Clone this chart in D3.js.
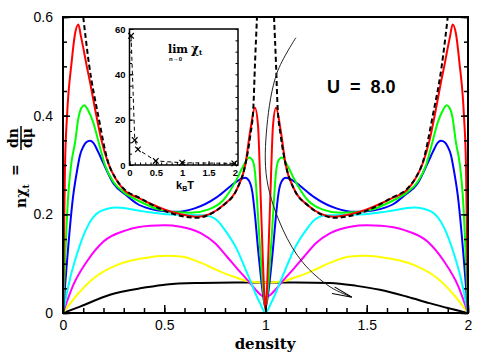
<!DOCTYPE html>
<html>
<head>
<meta charset="utf-8">
<script src="https://cdn.jsdelivr.net/npm/d3@7"></script>
<style>
body { margin: 0; background: #fff; }
svg { display: block; }
</style>
</head>
<body>
<div id="chart"></div>
<script>
// courbes n*chi_t (densité, valeur)
const red = [[0,0],[0.005,0.15],[0.01,0.3],[0.02,0.4],[0.043,0.51],[0.059,0.565],[0.076,0.585],[0.088,0.562],[0.1,0.538],[0.115,0.505],[0.133,0.469],[0.16,0.41],[0.19,0.35],[0.222,0.305],[0.26,0.272],[0.3,0.25],[0.38,0.232],[0.43,0.222],[0.5,0.21],[0.58,0.2],[0.66,0.195],[0.72,0.2],[0.79,0.218],[0.86,0.252],[0.9,0.3],[0.925,0.37],[0.948,0.416],[0.963,0.38],[0.975,0.25],[0.985,0.13],[0.995,0.03],[1,0.005],
  [1.005,0.03],[1.015,0.13],[1.025,0.25],[1.037,0.38],[1.052,0.416],[1.075,0.37],[1.1,0.3],[1.14,0.252],[1.21,0.218],[1.28,0.2],[1.34,0.195],[1.42,0.2],[1.5,0.21],[1.57,0.222],[1.62,0.232],[1.7,0.25],[1.74,0.272],[1.778,0.305],[1.81,0.35],[1.84,0.41],[1.867,0.469],[1.885,0.505],[1.9,0.538],[1.912,0.562],[1.924,0.585],[1.941,0.565],[1.957,0.51],[1.98,0.4],[1.99,0.3],[1.995,0.15],[2,0]];
const green = [[0,0],[0.026,0.24],[0.04,0.3],[0.06,0.347],[0.076,0.395],[0.09,0.415],[0.105,0.421],[0.125,0.41],[0.148,0.388],[0.183,0.335],[0.207,0.3],[0.25,0.265],[0.3,0.245],[0.38,0.226],[0.48,0.209],[0.56,0.204],[0.63,0.203],[0.72,0.21],[0.79,0.228],[0.864,0.276],[0.89,0.298],[0.92,0.315],[0.935,0.31],[0.948,0.286],[0.958,0.23],[0.968,0.164],[0.98,0.09],[0.99,0.04],[1,0.01],
  [1.01,0.04],[1.02,0.09],[1.032,0.164],[1.042,0.23],[1.052,0.286],[1.065,0.31],[1.08,0.315],[1.11,0.298],[1.136,0.276],[1.21,0.228],[1.28,0.21],[1.37,0.203],[1.44,0.204],[1.52,0.209],[1.62,0.226],[1.7,0.245],[1.75,0.265],[1.793,0.3],[1.817,0.335],[1.852,0.388],[1.875,0.41],[1.895,0.421],[1.91,0.415],[1.924,0.395],[1.94,0.347],[1.96,0.3],[1.974,0.24],[2,0]];
const blue = [[0,0],[0.051,0.24],[0.07,0.29],[0.084,0.32],[0.1,0.337],[0.115,0.346],[0.133,0.349],[0.15,0.345],[0.173,0.327],[0.198,0.305],[0.25,0.262],[0.314,0.238],[0.364,0.222],[0.43,0.211],[0.5,0.206],[0.56,0.205],[0.65,0.212],[0.76,0.235],[0.83,0.258],[0.87,0.27],[0.9,0.274],[0.92,0.267],[0.935,0.245],[0.95,0.19],[0.963,0.13],[0.978,0.07],[0.99,0.03],[1,0.01],
  [1.01,0.03],[1.022,0.07],[1.037,0.13],[1.05,0.19],[1.065,0.245],[1.08,0.267],[1.1,0.274],[1.13,0.27],[1.17,0.258],[1.24,0.235],[1.35,0.212],[1.44,0.205],[1.5,0.206],[1.57,0.211],[1.636,0.222],[1.686,0.238],[1.75,0.262],[1.802,0.305],[1.827,0.327],[1.85,0.345],[1.867,0.349],[1.885,0.346],[1.9,0.337],[1.916,0.32],[1.93,0.29],[1.949,0.24],[2,0]];
const cyan = [[0,0],[0.035,0.07],[0.068,0.118],[0.117,0.172],[0.183,0.206],[0.265,0.214],[0.397,0.206],[0.512,0.2],[0.6,0.199],[0.7,0.198],[0.76,0.188],[0.8,0.168],[0.86,0.128],[0.9,0.09],[0.923,0.067],[0.95,0.04],[0.975,0.018],[1,0],
  [1.025,0.018],[1.05,0.04],[1.077,0.067],[1.1,0.09],[1.14,0.128],[1.2,0.168],[1.24,0.188],[1.3,0.198],[1.4,0.199],[1.488,0.2],[1.603,0.206],[1.735,0.214],[1.817,0.206],[1.883,0.172],[1.932,0.118],[1.965,0.07],[2,0]];
const magenta = [[0,0],[0.051,0.057],[0.117,0.104],[0.2,0.145],[0.314,0.168],[0.43,0.177],[0.5,0.178],[0.58,0.175],[0.68,0.162],[0.75,0.142],[0.81,0.114],[0.86,0.09],[0.91,0.067],[0.95,0.048],[0.975,0.037],[1,0.032],
  [1.025,0.037],[1.05,0.048],[1.09,0.067],[1.14,0.09],[1.19,0.114],[1.25,0.142],[1.32,0.162],[1.42,0.175],[1.5,0.178],[1.57,0.177],[1.686,0.168],[1.8,0.145],[1.883,0.104],[1.949,0.057],[2,0]];
const yellow = [[0,0],[0.068,0.036],[0.15,0.07],[0.265,0.097],[0.397,0.111],[0.512,0.116],[0.59,0.114],[0.68,0.102],[0.76,0.087],[0.84,0.074],[0.92,0.064],[1,0.062],
  [1.08,0.064],[1.16,0.074],[1.24,0.087],[1.32,0.102],[1.41,0.114],[1.488,0.116],[1.603,0.111],[1.735,0.097],[1.85,0.07],[1.932,0.036],[2,0]];
const black = [[0,0],[0.084,0.013],[0.232,0.037],[0.397,0.051],[0.512,0.058],[0.68,0.061],[0.85,0.062],[1,0.062],[1.15,0.062],[1.32,0.061],[1.45,0.055],[1.565,0.047],[1.7,0.033],[1.81,0.02],[1.9,0.01],[2,0]];
// limite T -> 0 (tirets), null = coupure
const limitT0 = [[0.1,0.6],[0.13,0.5],[0.174,0.4],[0.222,0.307],[0.26,0.273],[0.3,0.252],[0.38,0.233],[0.45,0.217],[0.55,0.2],[0.66,0.193],[0.72,0.199],[0.79,0.218],[0.86,0.252],[0.9,0.3],[0.925,0.36],[0.94,0.416],[0.948,0.504],[0.958,0.6],
  [1,null],
  [1.042,0.6],[1.052,0.504],[1.06,0.416],[1.075,0.36],[1.1,0.3],[1.14,0.252],[1.21,0.218],[1.28,0.199],[1.34,0.193],[1.45,0.2],[1.55,0.217],[1.62,0.233],[1.7,0.252],[1.74,0.273],[1.778,0.307],[1.826,0.4],[1.87,0.5],[1.9,0.6]];

const seriesColors = [[black, "#000000"], [yellow, "#ffff00"], [magenta, "#ff00ff"], [cyan, "#00ffff"], [blue, "#0000ff"], [green, "#00ff00"], [red, "#ff0000"]];

// encart : lim chi_t en fonction de kB T
const insetT = [0.03, 0.1, 0.16, 0.5, 1.0, 1.99];
const insetChi = [57, 11, 6.9, 1.8, 1.0, 0.7];

// flèche (coordonnées dans le repère densité / valeur)
const arrowPath = [[1.15,0.558],[1.057,0.487],[1.007,0.378],[1.007,0.27],[1.086,0.169],[1.185,0.102],[1.319,0.053],[1.427,0.032]];

const xTicks = [0, 0.5, 1, 1.5, 2];
const yTicks = [0, 0.2, 0.4, 0.6];

const margin = { top: 17, right: 14, bottom: 47, left: 63 };
const width = 482 - margin.left - margin.right;
const height = 360 - margin.top - margin.bottom;

const root = d3.select("#chart").append("svg")
    .attr("width", 482)
    .attr("height", 360);

const svg = root.append("g")
    .attr("transform", `translate(${margin.left},${margin.top})`);

const x = d3.scaleLinear().domain([0, 2]).range([0, width]);
const y = d3.scaleLinear().domain([0, 0.6]).range([height, 0]);

root.append("defs").append("clipPath").attr("id", "clip")
    .append("rect").attr("width", width).attr("height", height);

const line = d3.line()
    .defined(d => d[1] !== null)
    .x(d => x(d[0]))
    .y(d => y(d[1]))
    .curve(d3.curveMonotoneX);

const plot = svg.append("g").attr("clip-path", "url(#clip)");

seriesColors.forEach(([data, color]) => {
    plot.append("path")
        .datum(data)
        .attr("d", line)
        .attr("fill", "none")
        .attr("stroke", color)
        .attr("stroke-width", 2);
});

plot.append("path")
    .datum(limitT0)
    .attr("d", line)
    .attr("fill", "none")
    .attr("stroke", "#000")
    .attr("stroke-width", 2)
    .attr("stroke-dasharray", "5,3");

// axes (graduations vers l'intérieur)
const tickFont = "'Liberation Sans', Arial, sans-serif";

function styleAxis(g) {
    g.select(".domain").remove();
    g.selectAll("line").attr("stroke", "#000").attr("stroke-width", 1.5);
    g.selectAll("text").attr("font-family", tickFont).attr("font-size", 14).attr("fill", "#000");
}

svg.append("g")
    .attr("transform", `translate(0,${height})`)
    .call(d3.axisBottom(x).tickValues(d3.range(0, 2.01, 0.1)).tickSize(-5).tickFormat(""))
    .call(styleAxis);
svg.append("g")
    .attr("transform", `translate(0,${height})`)
    .call(d3.axisBottom(x).tickValues(xTicks).tickSize(-8).tickPadding(7).tickFormat(d3.format("")))
    .call(styleAxis);

svg.append("g")
    .call(d3.axisLeft(y).tickValues(d3.range(0, 0.61, 0.05)).tickSize(-4).tickFormat(""))
    .call(styleAxis);
svg.append("g")
    .call(d3.axisLeft(y).tickValues(yTicks).tickSize(-7).tickPadding(10).tickFormat(d3.format("")))
    .call(styleAxis);

svg.append("g")
    .attr("transform", `translate(${width},0)`)
    .call(d3.axisRight(y).tickValues(d3.range(0, 0.61, 0.05)).tickSize(-4).tickFormat(""))
    .call(styleAxis);
svg.append("g")
    .attr("transform", `translate(${width},0)`)
    .call(d3.axisRight(y).tickValues(yTicks).tickSize(-7).tickFormat(""))
    .call(styleAxis);

svg.append("rect")
    .attr("width", width)
    .attr("height", height)
    .attr("fill", "none")
    .attr("stroke", "#000")
    .attr("stroke-width", 2);

// flèche
root.select("defs").append("marker")
    .attr("id", "head")
    .attr("viewBox", "0 -5 20 10")
    .attr("refX", 20)
    .attr("refY", 0)
    .attr("markerUnits", "userSpaceOnUse")
    .attr("markerWidth", 20)
    .attr("markerHeight", 10)
    .attr("orient", "auto")
    .append("path")
    .attr("d", "M0,-3.5L20,0L0,3.5")
    .attr("fill", "none")
    .attr("stroke", "#000")
    .attr("stroke-width", 1);

svg.append("path")
    .datum(arrowPath)
    .attr("d", d3.line().x(d => x(d[0])).y(d => y(d[1])).curve(d3.curveCatmullRom))
    .attr("fill", "none")
    .attr("stroke", "#222")
    .attr("stroke-width", 1)
    .attr("marker-end", "url(#head)");

// texte U = 8.0
svg.append("text")
    .attr("x", 327 - margin.left)
    .attr("y", 93 - margin.top)
    .attr("font-family", tickFont)
    .attr("font-weight", "bold")
    .attr("font-size", 18)
    .style("white-space", "pre")
    .text("U  =  8.0");

// étiquette de l'axe x
const serif = "'DejaVu Serif', serif";
root.append("text")
    .attr("x", 265)
    .attr("y", 349)
    .attr("text-anchor", "middle")
    .attr("font-family", serif)
    .attr("font-weight", "bold")
    .attr("font-size", 15)
    .text("density");

// étiquette de l'axe y : n chi_t = dn/dmu
const yl = root.append("g")
    .attr("transform", "translate(25.5,208) rotate(-90)")
    .attr("font-family", serif)
    .attr("font-weight", "bold");
const t1 = yl.append("text").attr("x", 0).attr("y", 0).attr("font-size", 14);
t1.append("tspan").text("nχ");
t1.append("tspan").attr("font-size", 9).attr("dy", 3).text("t");
yl.append("text").attr("x", 38).attr("y", -6).attr("text-anchor", "middle").attr("font-size", 14).text("=");
yl.append("text").attr("x", 70).attr("y", -7.5).attr("text-anchor", "middle").attr("font-size", 14).text("dn");
yl.append("line").attr("x1", 58).attr("x2", 82).attr("y1", -4.5).attr("y2", -4.5).attr("stroke", "#000").attr("stroke-width", 1.5);
yl.append("text").attr("x", 70).attr("y", 6.5).attr("text-anchor", "middle").attr("font-size", 14).text("dμ");

// encart
const inset = { left: 129.5, top: 29, width: 108.5, height: 136 };
const ig = root.append("g").attr("transform", `translate(${inset.left},${inset.top})`);
ig.append("rect").attr("width", inset.width).attr("height", inset.height).attr("fill", "#fff");

const ix = d3.scaleLinear().domain([0, 2.06]).range([0, inset.width]);
const iy = d3.scaleLinear().domain([0, 60]).range([inset.height, 0]);

function styleInset(g) {
    g.select(".domain").remove();
    g.selectAll("line").attr("stroke", "#000").attr("stroke-width", 1);
    g.selectAll("text").attr("font-family", tickFont).attr("font-weight", "bold").attr("font-size", 9.5).attr("fill", "#000");
}

ig.append("g")
    .call(d3.axisLeft(iy).tickValues(d3.range(0, 61, 5)).tickSize(-2.5).tickFormat(""))
    .call(styleInset);
ig.append("g")
    .call(d3.axisLeft(iy).tickValues([0, 20, 40, 60]).tickSize(-4).tickPadding(4))
    .call(styleInset);
ig.append("g")
    .attr("transform", `translate(${inset.width},0)`)
    .call(d3.axisRight(iy).tickValues(d3.range(0, 61, 5)).tickSize(-2.5).tickFormat(""))
    .call(styleInset);
ig.append("g")
    .attr("transform", `translate(0,${inset.height})`)
    .call(d3.axisBottom(ix).tickValues(d3.range(0, 2.01, 0.1)).tickSize(-2.5).tickFormat(""))
    .call(styleInset);
ig.append("g")
    .attr("transform", `translate(0,${inset.height})`)
    .call(d3.axisBottom(ix).tickValues(xTicks).tickSize(-4).tickPadding(4).tickFormat(d3.format("")))
    .call(styleInset);

const insetData = insetT.map((t, i) => [t, insetChi[i]]);
ig.append("path")
    .datum(insetData)
    .attr("d", d3.line().x(d => ix(d[0])).y(d => iy(d[1])))
    .attr("fill", "none")
    .attr("stroke", "#000")
    .attr("stroke-width", 1)
    .attr("stroke-dasharray", "4,3");

ig.selectAll("path.cross")
    .data(insetData)
    .join("path")
    .attr("class", "cross")
    .attr("transform", d => `translate(${ix(d[0])},${iy(d[1])})`)
    .attr("d", d3.symbol(d3.symbolTimes, 22))
    .attr("fill", "none")
    .attr("stroke", "#000")
    .attr("stroke-width", 1.2);

ig.append("rect")
    .attr("width", inset.width)
    .attr("height", inset.height)
    .attr("fill", "none")
    .attr("stroke", "#000")
    .attr("stroke-width", 1.5);

root.append("text")
    .attr("x", 168)
    .attr("y", 53)
    .attr("font-family", serif)
    .attr("font-weight", "bold")
    .attr("font-size", 11)
    .text("lim");
root.append("text")
    .attr("x", 169)
    .attr("y", 60.5)
    .attr("font-family", tickFont)
    .attr("font-weight", "bold")
    .attr("font-size", 6)
    .text("n→0");
const chiT = root.append("text")
    .attr("x", 191)
    .attr("y", 53)
    .attr("font-family", serif)
    .attr("font-weight", "bold")
    .attr("font-size", 12);
chiT.append("tspan").text("χ");
chiT.append("tspan").attr("font-size", 7).attr("dy", 2).text("t");

const kbt = root.append("text")
    .attr("x", 185)
    .attr("y", 189)
    .attr("text-anchor", "middle")
    .attr("font-family", tickFont)
    .attr("font-weight", "bold")
    .attr("font-size", 11);
kbt.append("tspan").text("k");
kbt.append("tspan").attr("font-size", 7).attr("dy", 2).text("B");
kbt.append("tspan").attr("dy", -2).text("T");
</script>
</body>
</html>
